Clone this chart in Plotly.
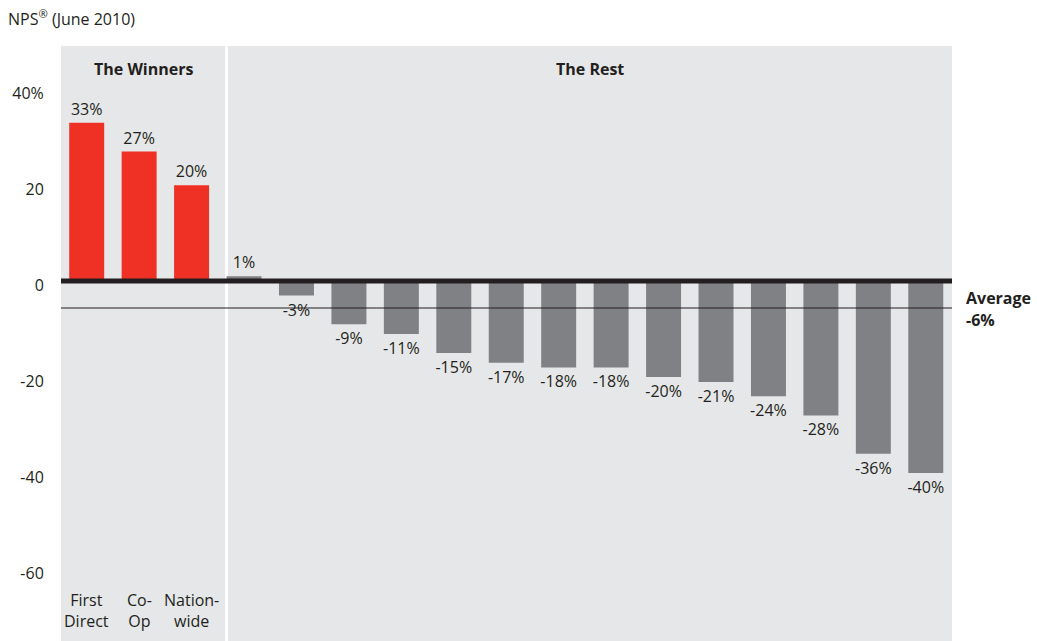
import plotly.graph_objects as go

# ---- data ----
categories = ["First Direct", "Co-Op", "Nationwide", "Bank 4", "Bank 5", "Bank 6", "Bank 7",
              "Bank 8", "Bank 9", "Bank 10", "Bank 11", "Bank 12", "Bank 13", "Bank 14",
              "Bank 15", "Bank 16", "Bank 17"]
nps_values = [33, 27, 20, 1, -3, -9, -11, -15, -17, -18, -18, -20, -21, -24, -28, -36, -40]
winner_labels = ["First<br>Direct", "Co-<br>Op", "Nation-<br>wide"]
n_winners = 3
average_value = -5.6
average_label = "-6%"
y_tick_vals = [40, 20, 0, -20, -40, -60]
y_tick_text = ["40%", "20", "0", "-20", "-40", "-60"]

RED = "#ee3124"
GREY_BAR = "#808184"
PANEL = "#e6e7e8"
TEXT = "#231f20"
FONT = "Open Sans"
FS = 16

xs = list(range(len(nps_values)))
colors = [RED if i < n_winners else GREY_BAR for i in xs]
labels = [f"{v}%" for v in nps_values]

X0, X1 = -0.49, 16.5
SPLIT_L, SPLIT_R = 2.64, 2.695

fig = go.Figure()
fig.add_trace(go.Bar(
    x=xs, y=nps_values, marker=dict(color=colors, line=dict(width=0)),
    text=labels, textposition="outside", cliponaxis=False, constraintext="none",
    textfont=dict(family=FONT, size=FS, color=TEXT),
    width=0.667, hoverinfo="skip", customdata=categories,
))

shapes = [
    dict(type="rect", xref="x", yref="paper", x0=X0, x1=SPLIT_L, y0=0, y1=1,
         fillcolor=PANEL, line=dict(width=0), layer="below"),
    dict(type="rect", xref="x", yref="paper", x0=SPLIT_R, x1=X1, y0=0, y1=1,
         fillcolor=PANEL, line=dict(width=0), layer="below"),
    dict(type="line", xref="x", yref="y", x0=X0, x1=X1 + 0.02, y0=0, y1=0,
         line=dict(color=TEXT, width=5), layer="above"),
    dict(type="line", xref="x", yref="y", x0=X0, x1=X1 + 0.02, y0=average_value, y1=average_value,
         line=dict(color=TEXT, width=1.2), layer="above"),
]

annotations = [
    dict(text="NPS<sup>®</sup> (June 2010)", xref="paper", yref="paper", x=-0.062, y=1.047,
         xanchor="left", yanchor="middle", showarrow=False,
         font=dict(family=FONT, size=FS, color=TEXT)),
    dict(text="<b>The Winners</b>", xref="x", yref="y", x=(X0 + SPLIT_L) / 2, y=44.2,
         showarrow=False, font=dict(family=FONT, size=FS, color=TEXT)),
    dict(text="<b>The Rest</b>", xref="x", yref="y", x=(SPLIT_R + X1) / 2, y=44.2,
         showarrow=False, font=dict(family=FONT, size=FS, color=TEXT)),
    dict(text="<b>Average</b>", xref="paper", yref="y", x=1.0135, y=-3.5,
         xanchor="left", showarrow=False, font=dict(family=FONT, size=FS, color=TEXT)),
    dict(text=f"<b>{average_label}</b>", xref="paper", yref="y", x=1.0135, y=-8.1,
         xanchor="left", showarrow=False, font=dict(family=FONT, size=FS, color=TEXT)),
]
for i, lab in enumerate(winner_labels):
    annotations.append(dict(text=lab, xref="x", yref="y", x=i, y=-68.6,
                            showarrow=False, align="center",
                            font=dict(family=FONT, size=FS, color=TEXT)))

fig.update_layout(
    width=1037, height=641,
    margin=dict(l=61, r=85, t=46, b=0),
    paper_bgcolor="white", plot_bgcolor="white",
    showlegend=False, bargap=0.33,
    shapes=shapes, annotations=annotations,
    xaxis=dict(range=[X0, X1], showticklabels=False, showgrid=False, zeroline=False,
               ticks="", fixedrange=True),
    yaxis=dict(range=[-75, 49], tickvals=y_tick_vals, ticktext=y_tick_text,
               showgrid=False, zeroline=False, ticks="outside", ticklen=13,
               tickcolor="rgba(0,0,0,0)", ticklabelshift=4,
               tickfont=dict(family=FONT, size=FS, color=TEXT), fixedrange=True),
    font=dict(family=FONT, color=TEXT),
)

fig.write_html("out.html")
